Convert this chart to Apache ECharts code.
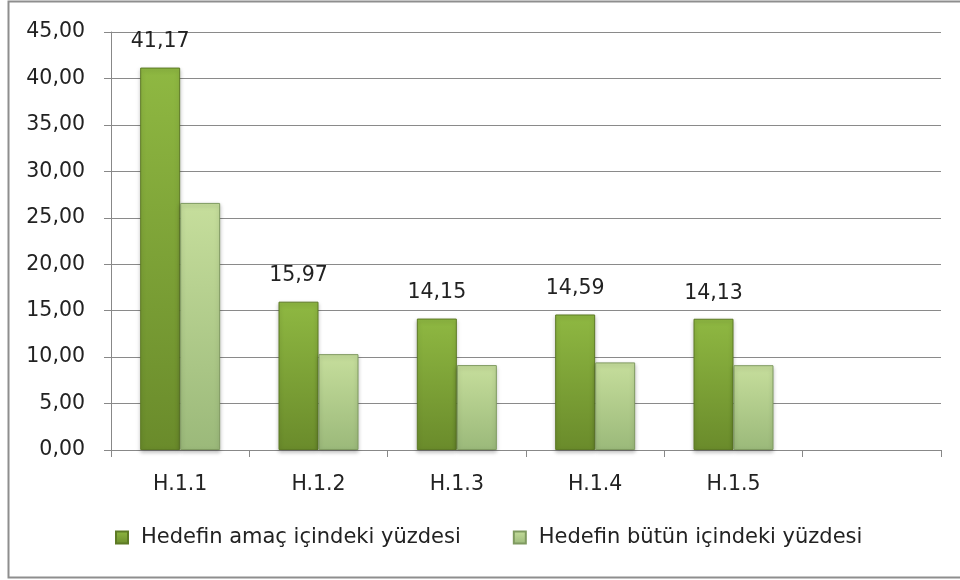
<!DOCTYPE html>
<html>
<head>
<meta charset="utf-8">
<script src="https://cdn.jsdelivr.net/npm/echarts@6/dist/echarts.min.js"></script>
<style>
html, body { margin: 0; padding: 0; background: #fff; }
#chart { width: 960px; height: 580px; }
</style>
</head>
<body>
<div id="chart"></div>
<script>
var categories = ['H.1.1', 'H.1.2', 'H.1.3', 'H.1.4', 'H.1.5', ''];
var amacValues = [41.17, 15.97, 14.15, 14.59, 14.13, null];
var butunValues = [26.60, 10.32, 9.14, 9.43, 9.13, null];
var seriesNames = ['Hedefin amaç içindeki yüzdesi', 'Hedefin bütün içindeki yüzdesi'];

var fontName = 'DejaVu Sans';
var fontSize = 20.5;

function fmt(v) {
    return Number(v).toFixed(2).replace('.', ',');
}

var chart = echarts.init(document.getElementById('chart'));

var option = {
    animation: false,
    textStyle: { fontFamily: fontName },
    // outer frame: left, top and bottom edges only
    graphic: [{
        type: 'polyline',
        shape: { points: [[960, 1.5], [8.5, 1.5], [8.5, 577.5], [960, 577.5]] },
        style: { fill: null, stroke: '#8e8e8e', lineWidth: 2 }
    }],
    legend: {
        bottom: 27,
        left: 110,
        itemWidth: 12,
        itemHeight: 12,
        itemGap: 52,
        icon: 'rect',
        textStyle: { fontSize: 21, color: '#222', fontFamily: fontName, padding: [0, 0, 0, 8] },
        data: seriesNames
    },
    grid: {
        left: 111,
        right: 19,
        top: 32,
        bottom: 130
    },
    xAxis: {
        type: 'category',
        data: categories,
        axisLine: { lineStyle: { color: '#888', width: 1 } },
        axisTick: { show: true, length: 7, alignWithLabel: false, lineStyle: { color: '#888' } },
        axisLabel: { fontSize: fontSize, color: '#222', margin: 24, fontFamily: fontName }
    },
    yAxis: {
        type: 'value',
        min: 0,
        max: 45,
        interval: 5,
        axisLine: { show: true, lineStyle: { color: '#888', width: 1 } },
        axisTick: { show: true, length: 7, lineStyle: { color: '#888' } },
        splitLine: { lineStyle: { color: '#8a8a8a', width: 1 } },
        axisLabel: {
            fontSize: fontSize, color: '#222', margin: 26, fontFamily: fontName,
            formatter: fmt
        }
    },
    series: [
        {
            name: seriesNames[0],
            type: 'bar',
            data: amacValues,
            barWidth: 40,
            barGap: '0%',
            itemStyle: {
                color: new echarts.graphic.LinearGradient(0, 0, 0, 1, [
                    { offset: 0, color: '#8fb842' },
                    { offset: 1, color: '#6a8b2b' }
                ]),
                borderColor: '#5d7a25',
                borderWidth: 1,
                shadowColor: 'rgba(0,0,0,0.25)',
                shadowBlur: 4,
                shadowOffsetY: 2
            },
            label: {
                show: true,
                position: 'top',
                distance: 15,
                fontSize: fontSize,
                color: '#222',
                fontFamily: fontName,
                formatter: function (p) { return fmt(p.value); }
            }
        },
        {
            name: seriesNames[1],
            type: 'bar',
            data: butunValues,
            barWidth: 40,
            itemStyle: {
                color: new echarts.graphic.LinearGradient(0, 0, 0, 1, [
                    { offset: 0, color: '#c6de9c' },
                    { offset: 1, color: '#9bb97a' }
                ]),
                borderColor: '#7f9a60',
                borderWidth: 1,
                shadowColor: 'rgba(0,0,0,0.25)',
                shadowBlur: 4,
                shadowOffsetY: 2
            }
        }
    ]
};

chart.setOption(option);
</script>
</body>
</html>
